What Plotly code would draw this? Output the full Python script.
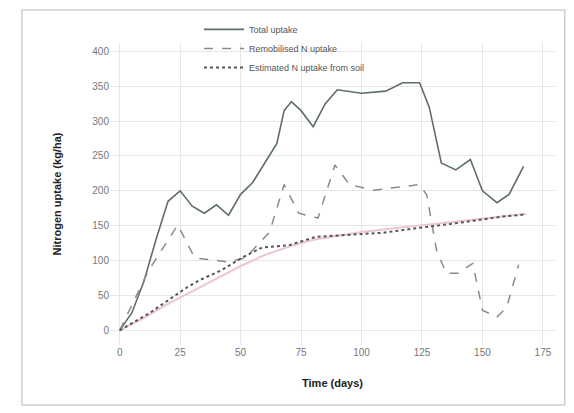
import plotly.graph_objects as go

# Total uptake
total_x = [0, 5, 10, 15, 20, 25, 30, 35, 40, 45, 50, 55, 60, 65, 68, 71, 75, 80, 85, 90,
           100, 110, 117, 124, 128, 133, 139, 145, 150, 156, 161, 167]
total_y = [0, 25, 70, 130, 185, 200, 178, 168, 180, 165, 195, 212, 240, 268, 315, 328,
           315, 292, 325, 345, 340, 343, 355, 355, 320, 240, 230, 245, 200, 183, 195, 235]

# Remobilised uptake
remob_x = [0, 12, 24, 31, 45, 52, 62, 68, 74, 82, 89, 95, 105, 124, 127, 131, 135, 140,
           146, 150, 156, 160, 165]
remob_y = [0, 86, 151, 104, 98, 104, 141, 209, 168, 161, 237, 209, 201, 209, 194, 115,
           82, 82, 96, 29, 19, 33, 94]

# Uptake from soil
soil_x = [0, 12, 28, 33, 42, 51, 59, 70, 81, 94, 109, 124, 140, 158, 167]
soil_y = [0, 24, 62, 72, 86, 105, 119, 122, 134, 137, 140, 147, 154, 163, 166]

# Smooth reference curve
ref_x = [0, 10, 20, 30, 40, 50, 60, 70, 80, 90, 100, 110, 120, 130, 140, 150, 160, 168]
ref_y = [0, 18, 38, 56, 74, 92, 108, 120, 130, 136, 141, 145, 149, 152, 156, 160, 164, 167]

x_ticks = [0, 25, 50, 75, 100, 125, 150, 175]
y_ticks = [0, 50, 100, 150, 200, 250, 300, 350, 400]

fig = go.Figure()
fig.add_trace(go.Scatter(x=ref_x, y=ref_y, mode="lines", showlegend=False,
                         line=dict(color="#ecc4d6", width=2)))
fig.add_trace(go.Scatter(x=total_x, y=total_y, mode="lines", name="Total uptake",
                         line=dict(color="#5e6e6c", width=1.6)))
fig.add_trace(go.Scatter(x=remob_x, y=remob_y, mode="lines", name="Remobilised N uptake",
                         line=dict(color="#8d8a8c", width=1.5, dash="dash")))
fig.add_trace(go.Scatter(x=soil_x, y=soil_y, mode="lines", name="Estimated N uptake from soil",
                         line=dict(color="#5a5558", width=2, dash="dot")))

grid = "#e6e6e6"
fig.update_layout(
    width=574, height=413,
    margin=dict(l=110, r=19, t=43, b=68),
    paper_bgcolor="white", plot_bgcolor="white",
    font=dict(family="Liberation Sans, Arial, sans-serif", size=10, color="#777777"),
    showlegend=True,
    legend=dict(x=0.2, y=1.093, xanchor="left", yanchor="top",
                bgcolor="rgba(255,255,255,0)", font=dict(size=9, color="#555555"),
                tracegroupgap=0, itemwidth=40),
    xaxis=dict(range=[-4, 180], tickvals=x_ticks, showgrid=True, gridcolor=grid,
               zeroline=False, showline=False, ticks="",
               title=dict(text="<b>Time (days)</b>", font=dict(size=11, color="#222222"),
                          standoff=22)),
    yaxis=dict(range=[-21, 412], tickvals=y_ticks, showgrid=True, gridcolor=grid,
               zeroline=False, showline=False, ticks="",
               title=dict(text="<b>Nitrogen uptake (kg/ha)</b>",
                          font=dict(size=11, color="#222222"), standoff=28)),
    shapes=[dict(type="rect", xref="paper", yref="paper",
                 x0=-0.198, x1=1.022, y0=-0.199, y1=1.109,
                 line=dict(color="#cfcfcf", width=1.5), fillcolor="rgba(0,0,0,0)",
                 layer="below")],
)

fig.write_html("out.html")
